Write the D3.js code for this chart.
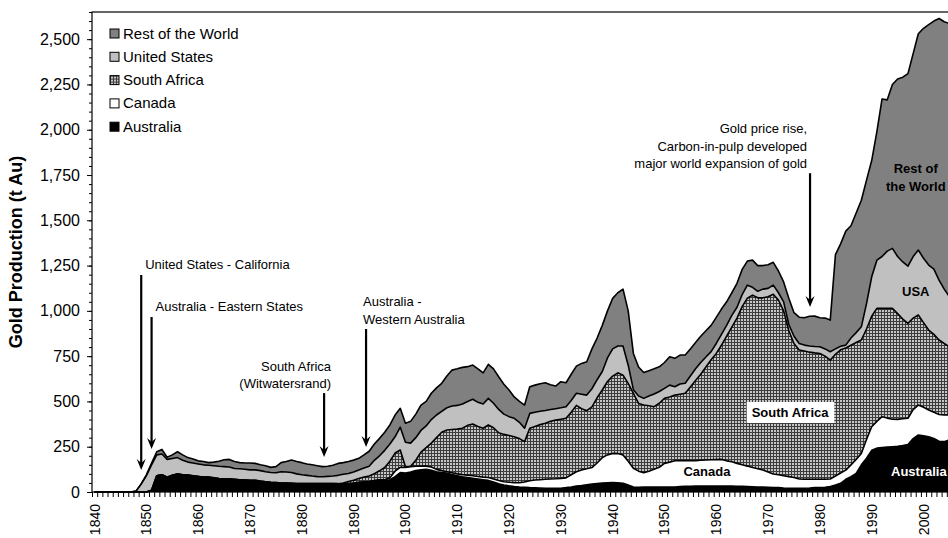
<!DOCTYPE html>
<html>
<head>
<meta charset="utf-8">
<script src="https://cdn.jsdelivr.net/npm/d3@7"></script>
<style>
  body { margin: 0; background: #fff; }
  text { font-family: "Liberation Sans", Arial, sans-serif; }
</style>
</head>
<body>
<div id="chart"></div>
<script>
// years 1840 - 2005, one value per year (tonnes)
var years = d3.range(1840, 2006);

var australia = [
  0,0,0,0,0,0,0,0,0,0,
  0,10,90,95,82,92,99,95,92,88,
  85,82,80,76,72,70,70,68,66,64,
  62,62,58,55,52,50,48,47,46,45,
  44,44,44,44,44,44,44,44,44,46,
  48,52,55,57,62,66,66,68,85,107,
  105,110,118,122,125,120,112,108,104,96,
  90,84,80,76,72,68,64,55,46,39,
  34,30,27,26,24,23,22,21,20,20,
  21,24,28,33,36,40,44,47,50,51,
  52,51,48,38,27,26,27,28,28,27,
  27,27,28,30,31,32,33,33,33,33,
  33,33,33,33,32,31,30,29,28,27,
  26,25,24,22,21,20,20,21,22,24,
  25,26,30,38,48,70,85,103,150,186,
  230,242,245,248,250,252,256,262,295,315,
  310,305,295,280,278,287
];

var canada = [
  0,0,0,0,0,0,0,0,0,0,
  0,0,0,0,0,0,0,0,1,1,
  1,1,2,2,2,2,2,2,2,2,
  2,2,2,2,2,2,2,2,2,2,
  2,2,2,2,2,2,2,1,1,1,
  1,1,1,1,1,1,2,10,30,29,
  31,30,24,21,18,18,13,10,8,10,
  10,12,13,14,14,14,16,17,18,18,
  20,22,24,29,38,43,46,49,52,53,
  54,54,67,79,86,88,91,113,140,154,
  161,161,156,132,104,89,80,87,97,109,
  131,138,145,143,142,141,140,142,144,145,
  146,147,139,134,126,119,113,106,100,94,
  84,74,71,68,64,60,52,49,48,46,
  45,44,42,50,57,51,65,77,63,104,
  130,148,171,160,152,149,148,145,160,165,
  158,148,145,148,147,138
];

var southAfrica = [
  0,0,0,0,0,0,0,0,0,0,
  0,0,0,0,0,0,0,0,0,0,
  0,0,0,0,0,0,0,0,0,0,
  0,0,0,0,0,0,0,0,0,0,
  0,0,0,0,0,0,0,1,5,11,
  16,22,26,30,38,50,67,92,100,96,
  4,2,33,77,102,132,175,212,230,239,
  248,256,275,285,276,270,290,283,263,261,
  258,253,244,223,290,296,304,310,318,324,
  327,329,345,366,338,321,335,360,373,405,
  427,446,441,430,414,374,373,361,346,354,
  359,360,362,367,372,407,442,475,513,552,
  586,630,688,743,802,873,927,952,944,951,
  968,993,965,910,805,740,712,708,702,698,
  695,680,656,672,680,674,660,645,626,610,
  610,624,598,606,612,584,551,524,505,497,
  467,441,430,411,395,377
];

var unitedStates = [
  0,0,0,0,0,0,0,0,5,45,
  90,140,115,115,98,93,91,80,72,71,
  69,67,66,67,68,68,66,60,60,60,
  58,58,58,55,54,54,62,61,60,53,
  49,46,42,39,38,40,42,46,48,44,
  45,47,50,54,74,83,95,95,90,126,
  135,128,125,120,120,130,125,115,123,130,
  130,134,132,137,133,134,147,135,129,112,
  104,102,90,74,82,78,74,70,65,63,
  63,64,65,67,80,86,100,100,102,130,
  150,148,161,100,20,41,37,54,70,65,
  55,65,46,56,55,60,65,65,55,45,
  55,60,60,65,60,67,72,43,36,48,
  46,50,40,50,35,40,36,33,34,35,
  37,40,46,30,20,16,40,55,73,140,
  218,266,286,316,331,315,315,316,340,359,
  355,359,360,331,300,276
];

var restOfWorld = [
  0,0,0,0,0,0,0,0,0,0,
  5,10,17,25,12,20,32,30,25,22,
  17,18,14,20,28,38,42,38,34,34,
  38,36,32,33,28,34,50,58,69,68,
  67,63,62,60,56,56,60,66,64,66,
  66,64,73,83,90,96,100,105,120,104,
  105,120,130,140,135,145,150,155,175,198,
  202,202,192,189,185,172,188,190,180,165,
  147,118,115,128,147,150,152,153,137,125,
  144,132,145,150,170,184,220,230,255,260,
  279,294,314,300,200,160,143,140,139,136,
  143,157,157,160,156,150,145,145,145,145,
  144,140,130,125,132,139,133,150,142,130,
  131,126,120,110,145,130,145,151,164,168,
  160,170,175,520,565,629,620,660,699,682,
  642,710,870,835,905,980,1020,1063,1120,1194,
  1270,1327,1370,1444,1476,1509
];

var keys = ["Australia", "Canada", "South Africa", "United States", "Rest of the World"];
var legendOrder = ["Rest of the World", "United States", "South Africa", "Canada", "Australia"];
var yTicks = d3.range(0, 2501, 250);
var xLabels = d3.range(1840, 2001, 10);

var annotations = [
  { year: 1849, from: 1198, to: 121, lines: ["United States - California"], anchor: "start", dx: 4, dy: -6 },
  { year: 1851, from: 966, to: 237, lines: ["Australia - Eastern States"], anchor: "start", dx: 4, dy: -6 },
  { year: 1884.3, from: 546, to: 193, lines: ["South Africa", "(Witwatersrand)"], anchor: "end", dx: 7, dy: -5 },
  { year: 1892.4, from: 900, to: 248, lines: ["Australia -", "Western Australia"], anchor: "start", dx: -3, dy: -5 },
  { year: 1978.1, from: 1760, to: 1021, lines: ["Gold price rise,", "Carbon-in-pulp developed", "major world expansion of gold"], anchor: "end", dx: -3, dy: -5 }
];

// table for d3.stack
var table = years.map(function (yr, i) {
  return {
    year: yr,
    "Australia": australia[i],
    "Canada": canada[i],
    "South Africa": southAfrica[i],
    "United States": unitedStates[i],
    "Rest of the World": restOfWorld[i]
  };
});

var margin = { top: 12, right: 0, bottom: 46, left: 92 },
  width = 860,
  height = 480;

var svg = d3.select("#chart")
  .append("svg")
    .attr("width", 948)
    .attr("height", 538)
    .style("display", "block")
  .append("g")
    .attr("transform", "translate(" + margin.left + "," + margin.top + ")");

var defs = svg.append("defs");
var pat = defs.append("pattern")
  .attr("id", "hatch")
  .attr("patternUnits", "userSpaceOnUse")
  .attr("width", 3)
  .attr("height", 3);
pat.append("rect").attr("width", 3).attr("height", 3).attr("fill", "#c6c6c6");
pat.append("rect").attr("width", 3).attr("height", 1).attr("fill", "#3c3c3c");
pat.append("rect").attr("width", 1).attr("height", 3).attr("fill", "#3c3c3c");

var fills = {
  "Australia": "#000000",
  "Canada": "#ffffff",
  "South Africa": "url(#hatch)",
  "United States": "#c0c0c0",
  "Rest of the World": "#808080"
};

var x = d3.scaleLinear().domain([1840, 2006]).range([0, width]);
var y = d3.scaleLinear().domain([0, 2650]).range([height, 0]);

var series = d3.stack().keys(keys)(table);

var area = d3.area()
  .x(function (d) { return x(d.data.year + 0.5); })
  .y0(function (d) { return y(d[0]); })
  .y1(function (d) { return y(d[1]); });

var topLine = d3.line()
  .x(function (d) { return x(d.data.year + 0.5); })
  .y(function (d) { return y(d[1]); });

svg.selectAll(".layer")
  .data(series)
  .enter()
  .append("path")
    .attr("class", "layer")
    .attr("d", area)
    .attr("fill", function (d) { return fills[d.key]; });

svg.selectAll(".edge")
  .data(series)
  .enter()
  .append("path")
    .attr("class", "edge")
    .attr("d", topLine)
    .attr("fill", "none")
    .attr("stroke", "#000")
    .attr("stroke-width", 1.6)
    .attr("stroke-linejoin", "round");

// axes
var yMinor = svg.append("g")
  .call(d3.axisLeft(y).tickValues(d3.range(0, 2651, 50)).tickSize(3).tickFormat(""));
yMinor.select(".domain").remove();

var yAxis = svg.append("g")
  .call(d3.axisLeft(y).tickValues(yTicks).tickSize(5).tickPadding(7).tickFormat(d3.format(",")));
yAxis.select(".domain").remove();
yAxis.selectAll("text").attr("font-size", 16).attr("fill", "#000")
  .style("font-family", '"Liberation Sans", Arial, sans-serif');

var xAxis = svg.append("g")
  .attr("transform", "translate(0," + height + ")")
  .call(d3.axisBottom(x).tickValues(d3.range(1840, 2007)).tickSize(5).tickFormat(""));
xAxis.select(".domain").remove();

svg.append("g")
  .selectAll("text")
  .data(xLabels)
  .enter()
  .append("text")
    .attr("transform", function (d) { return "translate(" + (x(d + 0.5) + 5) + "," + (height + 12) + ") rotate(-90)"; })
    .attr("text-anchor", "end")
    .attr("font-size", 14)
    .text(function (d) { return d; });

svg.append("rect")
  .attr("width", width)
  .attr("height", height)
  .attr("fill", "none")
  .attr("stroke", "#000")
  .attr("stroke-width", 1.2);

svg.append("text")
  .attr("transform", "translate(" + (-70) + "," + (height / 2) + ") rotate(-90)")
  .attr("text-anchor", "middle")
  .attr("font-size", 18)
  .attr("font-weight", "bold")
  .text("Gold Production (t Au)");

// legend
var legend = svg.append("g").attr("transform", "translate(18,17)");
legendOrder.forEach(function (k, i) {
  var g = legend.append("g").attr("transform", "translate(0," + (i * 23.3) + ")");
  g.append("rect")
    .attr("width", 9).attr("height", 9)
    .attr("fill", fills[k])
    .attr("stroke", "#000")
    .attr("stroke-width", 1);
  g.append("text")
    .attr("x", 13)
    .attr("y", 9.5)
    .attr("font-size", 15)
    .text(k);
});

// annotation arrows
var notes = svg.append("g");
annotations.forEach(function (a) {
  var ax = x(a.year + 0.5), y1 = y(a.from), y2 = y(a.to);
  notes.append("line")
    .attr("x1", ax).attr("x2", ax)
    .attr("y1", y1).attr("y2", y2 - 6)
    .attr("stroke", "#000")
    .attr("stroke-width", 2.2);
  notes.append("path")
    .attr("d", "M" + (ax - 4.5) + "," + (y2 - 11) + "L" + ax + "," + y2 + "L" + (ax + 4.5) + "," + (y2 - 11) + "L" + ax + "," + (y2 - 7) + "Z")
    .attr("fill", "#000");
  var n = a.lines.length;
  a.lines.forEach(function (t, i) {
    notes.append("text")
      .attr("x", ax + a.dx)
      .attr("y", y1 + a.dy - (n - 1 - i) * 17.5)
      .attr("text-anchor", a.anchor)
      .attr("font-size", 13)
      .text(t);
  });
});

// labels inside the areas
function bold(t, year, value, color) {
  return svg.append("text")
    .attr("x", x(year))
    .attr("y", y(value))
    .attr("text-anchor", "middle")
    .attr("font-size", 13)
    .attr("font-weight", "bold")
    .attr("fill", color)
    .text(t);
}
bold("Rest of", 1999, 1763, "#000");
bold("the World", 1999, 1664, "#000");
bold("USA", 1999, 1080, "#000");
var sa = bold("South Africa", 1974.75, 414, "#000");
var bb = sa.node().getBBox();
svg.insert("rect", function () { return sa.node(); })
  .attr("x", bb.x - 5).attr("y", bb.y - 3)
  .attr("width", bb.width + 10).attr("height", bb.height + 6)
  .attr("fill", "#fff");
bold("Canada", 1958.7, 86, "#000");
bold("Australia", 1999.6, 88, "#fff");
</script>
</body>
</html>
